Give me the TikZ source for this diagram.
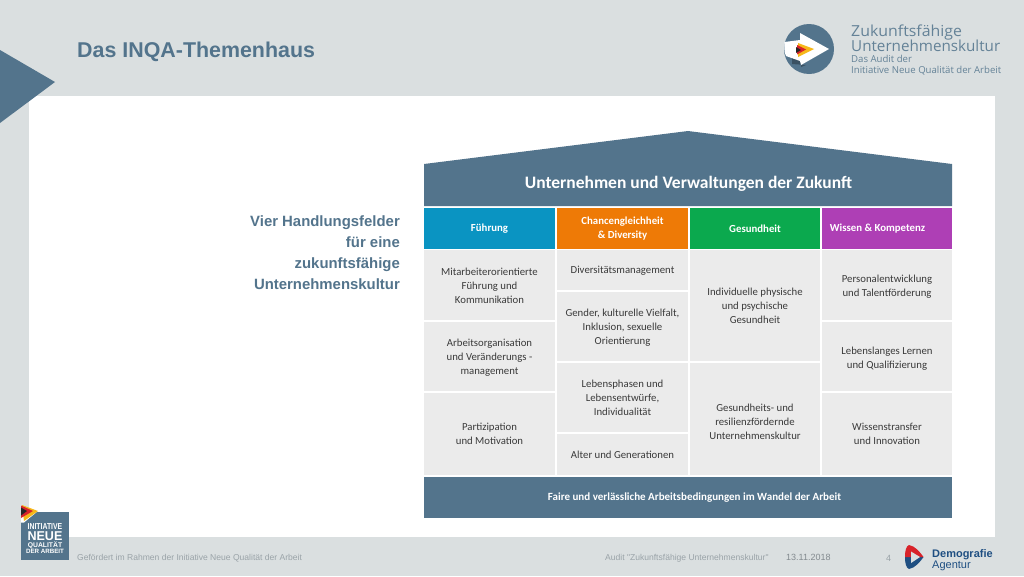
\documentclass[tikz,border=0pt]{standalone}
\usepackage{fontspec}
\setmainfont{Carlito}
\newfontfamily\arial{Liberation Sans}
\newfontfamily\opens{Open Sans}
\definecolor{bgc}{HTML}{DADFE0}
\definecolor{navy}{HTML}{53748C}
\definecolor{cell}{HTML}{EBEBEB}
\definecolor{celltext}{HTML}{3A3A3A}
\definecolor{foot}{HTML}{9AA3A8}
\definecolor{c1}{HTML}{0A94C2}
\definecolor{c2}{HTML}{EE7A06}
\definecolor{c3}{HTML}{0BA94E}
\definecolor{c4}{HTML}{AE3FB5}
\definecolor{logoR}{HTML}{D8232A}
\definecolor{logoY}{HTML}{F6B81A}
\definecolor{logoB}{HTML}{1F4F82}
\tikzset{
 x=1pt,y=-1pt,
 pos box/.style={inner sep=0pt,outer sep=0pt},
 cellbox/.style={pos box,fill=cell,anchor=north west},
 celltxt/.style={inner sep=0pt,text=celltext,font=\fontsize{10.75}{14}\selectfont,align=center},
 headbox/.style={pos box,anchor=north west},
 headtxt/.style={inner sep=0pt,text=white,font=\fontsize{10.8}{14}\bfseries\selectfont,align=center},
 footer/.style={inner sep=0pt,text=foot,font=\arial\fontsize{8.55}{11}\selectfont,anchor=base west},
 side/.style={inner sep=0pt,text=navy,font=\arial\fontsize{14.9}{21.3}\bfseries\selectfont,align=right,anchor=north east},
 logotop/.style={inner sep=0pt,anchor=base west,text=navy!90!white,font=\opens\fontsize{15.2}{18}\selectfont},
 logosub/.style={inner sep=0pt,anchor=base west,text=navy!90!white,font=\opens\fontsize{9.6}{12}\selectfont},
 inqa/.style={inner sep=0pt,anchor=base,text=white},
}
% x, y, w, h, name, text, text y-shift
\newcommand{\cellat}[7]{\node[cellbox,minimum width=#3pt,minimum height=#4pt] (#5) at (#1,#2) {};
 \node[celltxt] (#5t) at ([yshift=-#7pt]#5.center) {#6};}
% x, y, w, colour, name, text, text x-shift
\newcommand{\headat}[7]{\node[headbox,fill=#4,minimum width=#3pt,minimum height=41pt] (#5) at (#1,#2) {};
 \node[headtxt] (#5t) at ([xshift=#7pt]#5.center) {#6};}
\begin{document}
\begin{tikzpicture}
\useasboundingbox (0,0) rectangle (1024,576);
\fill[bgc] (0,0) rectangle (1024,576);
\fill[white] (29,96) rectangle (995,537);
\fill[navy] (0,50) -- (55,82) -- (0,123) -- cycle;
\node[inner sep=0pt,anchor=base west,text=navy,font=\arial\fontsize{21.4}{24}\bfseries\selectfont] (title) at (77,57) {Das INQA-Themenhaus};
% top logo
\fill[navy] (809,49) circle (25);
\fill[navy!70!black] (792,56) -- (801,60) -- (801,67) -- (806,65) -- (792,64) -- cycle;
\fill[white] (784.5,42) -- (800,40) -- (800,33) -- (829,49) -- (801,65) -- (800,61) -- (786,56) .. controls (784,52) and (784,46) .. (784.5,42) -- cycle;
\fill[logoY] (798,43) -- (814,49) -- (798,57) -- cycle;
\fill[logoR] (797,45) -- (806,49.5) -- (797,54.5) -- cycle;
\fill[black!85] (796,47) -- (801,50) -- (796,53) -- cycle;
\node[logotop,xscale=1.045] (lt1) at (851,36) {Zukunftsfähige};
\node[logotop] (lt2) at (851,51) {Unternehmenskultur};
\node[logosub] (lt3) at (851,62) {Das Audit der};
\node[logosub] (lt4) at (851,73) {Initiative Neue Qualität der Arbeit};
% side text
\node[side] (sidetext) at (400,215) {Vier Handlungsfelder\\für eine\\zukunftsfähige\\Unternehmenskultur};
% house
\fill[navy] (424,164) -- (688,131) -- (952,164) -- (952,206) -- (424,206) -- cycle;
\node[inner sep=0pt,text=white,font=\fontsize{17.5}{20}\bfseries\selectfont] (roof) at (688.5,184) {Unternehmen und Verwaltungen der Zukunft};
\headat{424}{208}{131}{c1}{h1}{Führung}{0}
\headat{557}{208}{131}{c2}{h2}{Chancengleichheit\\\& Diversity}{0}
\headat{690}{208}{130}{c3}{h3}{Gesundheit}{0}
\headat{822}{208}{130}{c4}{h4}{Wissen \& Kompetenz}{-9.5}
\cellat{424}{250}{131}{70}{a1}{Mitarbeiterorientierte\\Führung und\\Kommunikation}{1}
\cellat{424}{322}{131}{69}{a2}{Arbeitsorganisation\\und Veränderungs -\\management}{1.5}
\cellat{424}{393}{131}{82}{a3}{Partizipation\\und Motivation}{0}
\cellat{557}{250}{131}{40}{b1}{Diversitätsmanagement}{1}
\cellat{557}{292}{131}{69}{b2}{Gender, kulturelle Vielfalt,\\Inklusion, sexuelle\\Orientierung}{1}
\cellat{557}{363}{131}{69}{b3}{Lebensphasen und\\Lebensentwürfe,\\Individualität}{0}
\cellat{557}{434}{131}{41}{b4}{Alter und Generationen}{0}
\cellat{690}{250}{130}{111}{d1}{Individuelle physische\\und psychische\\Gesundheit}{0}
\cellat{690}{363}{130}{112}{d2}{Gesundheits- und\\resilienzfördernde\\Unternehmenskultur}{2.5}
\cellat{822}{250}{130}{70}{e1}{Personalentwicklung\\und Talentförderung}{2}
\cellat{822}{322}{130}{69}{e2}{Lebenslanges Lernen\\und Qualifizierung}{2}
\cellat{822}{393}{130}{82}{e3}{Wissenstransfer\\und Innovation}{0}
\node[pos box,fill=navy,text=white,font=\fontsize{11}{14}\bfseries\selectfont,minimum width=528pt,minimum height=41pt,anchor=north west] (base) at (424,477) {\hspace{13pt}Faire und verlässliche Arbeitsbedingungen im Wandel der Arbeit};
% INQA logo
\fill[navy] (21,512) rectangle (69,560);
\fill[white] (21,512) -- (38,511) -- (24,522.5) -- (21,522.5) -- cycle;
\fill[logoY] (22,505) -- (38,511) -- (24,521) -- cycle;
\fill[logoR] (21,505.5) -- (33,511) -- (21,518) -- cycle;
\fill[black!85] (21,507.5) -- (27,511) -- (21,515.5) -- cycle;
\node[inqa,xscale=.8,font=\arial\fontsize{8.6}{9}\bfseries\selectfont] (n1) at (45,529.5) {INITIATIVE};
\node[inqa,xscale=.98,font=\arial\fontsize{12.8}{13}\bfseries\selectfont] (n2) at (45,540) {NEUE};
\node[inqa,font=\arial\fontsize{6.8}{7}\bfseries\selectfont] (n3) at (45,547) {QUALITÄT};
\node[inqa,font=\arial\fontsize{6.2}{7}\bfseries\selectfont] (n4) at (45,553.5) {DER ARBEIT};
% footer
\node[footer] (f1) at (77,560) {Gefördert im Rahmen der Initiative Neue Qualität der Arbeit};
\node[footer] (f2) at (605,560.5) {Audit "Zukunftsfähige Unternehmenskultur"};
\node[footer,font=\arial\fontsize{9}{11}\selectfont,text=foot!85!black] (f3) at (786,560) {13.11.2018};
\node[footer,font=\arial\fontsize{9}{11}\selectfont] (f4) at (886,561) {4};
% Demografie logo
\fill[logoB] (905,557) .. controls (905,563) and (906,568) .. (909,569) .. controls (915,568) and (920,562) .. (923.5,557) -- cycle;
\fill[logoR] (905,557) .. controls (905,551) and (906,546) .. (909,545) .. controls (915,546) and (920,552) .. (923.5,557) -- cycle;
\fill[bgc] (911,551.5) -- (920,557) -- (911,563) -- cycle;
\node[inner sep=0pt,anchor=base west,text=logoB,font=\arial\fontsize{11}{12}\bfseries\selectfont] (da1) at (932,557.5) {Demografie};
\node[inner sep=0pt,anchor=base west,text=logoB,font=\arial\fontsize{11}{12}\selectfont] (da2) at (932,568.5) {Agentur};
\end{tikzpicture}
\end{document}
